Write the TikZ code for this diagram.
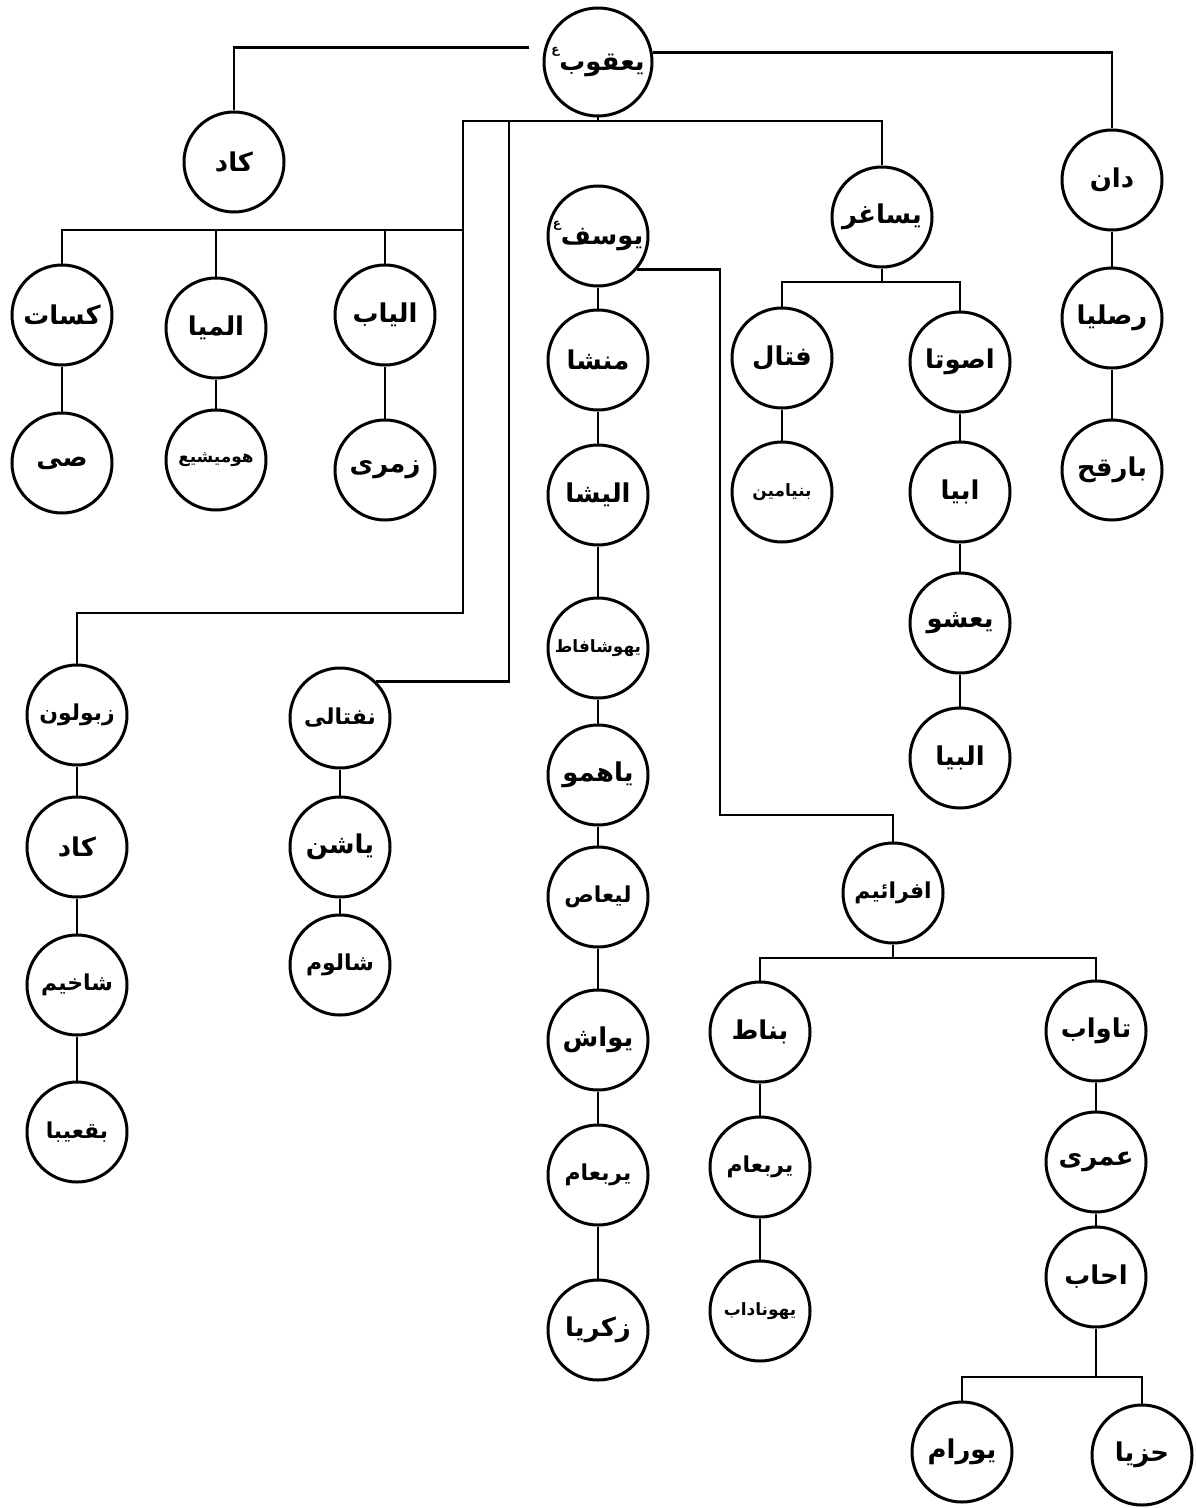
\documentclass[tikz,border=0pt]{standalone}
\usepackage{fontspec}
\newfontfamily\arabicfont[Script=Arabic]{DejaVu Sans}
\TeXXeTstate=1
\newcommand\urd[1]{\beginR #1\endR}
\newcommand\ainmark{\raisebox{1.2ex}{\fontsize{12}{12}\selectfont ع}}
\tikzset{
  person/.style={circle, draw, line width=3bp, minimum size=100bp, inner sep=0pt,
    font=\arabicfont\bfseries\fontsize{26}{28}\selectfont},
  mid/.style={font=\arabicfont\bfseries\fontsize{22}{24}\selectfont},
  small/.style={font=\arabicfont\bfseries\fontsize{17}{19}\selectfont},
  link/.style={line width=2.8bp},
}
\begin{document}
\begin{tikzpicture}[x=1bp,y=-1bp]
\useasboundingbox (0,0) rectangle (1195,1508);
% nodes
\node[person,minimum size=108bp] (yaqub) at (598,62) {\urd{یعقوب\ainmark}};
\node[person] (kad1) at (234,162) {\urd{کاد}};
\node[person] (dan) at (1112,180) {\urd{دان}};
\node[person] (issachar) at (882,217) {\urd{یساغر}};
\node[person] (yusuf) at (598,236) {\urd{یوسف\ainmark}};
\node[person] (kasat) at (62,315) {\urd{کسات}};
\node[person] (elmiya) at (216,328) {\urd{المیا}};
\node[person] (eliab) at (385,315) {\urd{الیاب}};
\node[person] (rasliya) at (1112,318) {\urd{رصلیا}};
\node[person] (fatal) at (782,358) {\urd{فتال}};
\node[person] (asuta) at (960,362) {\urd{اصوتا}};
\node[person] (mansha) at (598,360) {\urd{منشا}};
\node[person] (sai) at (62,463) {\urd{صی}};
\node[person,small] (homishi) at (216,460) {\urd{هومیشیع}};
\node[person] (zimri) at (385,470) {\urd{زمری}};
\node[person] (elisha) at (598,495) {\urd{الیشا}};
\node[person,small] (binyamin) at (782,492) {\urd{بنیامین}};
\node[person] (abiya) at (960,492) {\urd{ابیا}};
\node[person] (barqah) at (1112,470) {\urd{بارقح}};
\node[person,small] (yehoshafat) at (598,648) {\urd{یهوشافاط}};
\node[person] (yaashu) at (960,623) {\urd{یعشو}};
\node[person,mid] (zabulun) at (77,715) {\urd{زبولون}};
\node[person,mid] (naftali) at (340,718) {\urd{نفتالی}};
\node[person] (yahmu) at (598,775) {\urd{یاهمو}};
\node[person] (elbiya) at (960,758) {\urd{البیا}};
\node[person] (kad2) at (77,847) {\urd{کاد}};
\node[person] (yashan) at (340,847) {\urd{یاشن}};
\node[person,mid] (laas) at (598,897) {\urd{لیعاص}};
\node[person,mid] (ephraim) at (893,893) {\urd{افرائیم}};
\node[person,mid] (shakhim) at (77,985) {\urd{شاخیم}};
\node[person,mid] (shalom) at (340,965) {\urd{شالوم}};
\node[person] (bnat) at (760,1032) {\urd{بناط}};
\node[person] (tawab) at (1096,1031) {\urd{تاواب}};
\node[person] (yoash) at (598,1040) {\urd{یواش}};
\node[person,mid] (baqiba) at (77,1132) {\urd{بقعیبا}};
\node[person,mid] (yarobam) at (598,1175) {\urd{یربعام}};
\node[person,mid] (yarobamb) at (760,1167) {\urd{یربعام}};
\node[person] (omri) at (1096,1162) {\urd{عمری}};
\node[person] (ahab) at (1096,1277) {\urd{احاب}};
\node[person] (zakariya) at (598,1330) {\urd{زکریا}};
\node[person,small] (yonadab) at (760,1311) {\urd{یهوناداب}};
\node[person] (yoram) at (962,1452) {\urd{یورام}};
\node[person] (hazya) at (1142,1455) {\urd{حزیا}};
% helper coordinates
\coordinate (barL) at (463,121);
\coordinate (barM) at (509,121);
\coordinate (kb) at (463,230);
\coordinate (ib) at (882,282);
\coordinate (yc) at (720,815);
\coordinate (eb) at (893,958);
\coordinate (ab) at (1096,1377);
% connectors
\draw[link] ([xshift=-15bp]yaqub.165) -| (kad1.north);
\draw[link] (yaqub.10) -| (dan.north);
\draw[link] (yaqub.south) -- (yaqub.south |- barL);
\draw[link] (zabulun.north) |- (463,613) -- (barL) -| (issachar.north);
\draw[link] (naftali.45) -- (naftali.45 -| barM) -- (barM);
\draw[link] (kasat.north) |- (kb);
\draw[link] (elmiya.north) -- (elmiya.north |- kb);
\draw[link] (eliab.north) -- (eliab.north |- kb);
\draw[link] (issachar.south) -- (ib);
\draw[link] (fatal.north) |- (asuta.north |- ib) -- (asuta.north);
\draw[link] (yusuf.-40) -| (yc) -| (ephraim.north);
\draw[link] (ephraim.south) -- (ephraim.south |- eb);
\draw[link] (bnat.north) |- (tawab.north |- eb) -- (tawab.north);
\draw[link] (ahab.south) -- (ab);
\draw[link] (yoram.north) |- (hazya.north |- ab) -- (hazya.north);
% chains
\draw[link] (kasat) -- (sai);
\draw[link] (elmiya) -- (homishi);
\draw[link] (eliab) -- (zimri);
\draw[link] (dan) -- (rasliya) -- (barqah);
\draw[link] (yusuf) -- (mansha) -- (elisha) -- (yehoshafat) -- (yahmu) -- (laas) -- (yoash) -- (yarobam) -- (zakariya);
\draw[link] (fatal) -- (binyamin);
\draw[link] (asuta) -- (abiya) -- (yaashu) -- (elbiya);
\draw[link] (zabulun) -- (kad2) -- (shakhim) -- (baqiba);
\draw[link] (naftali) -- (yashan) -- (shalom);
\draw[link] (bnat) -- (yarobamb) -- (yonadab);
\draw[link] (tawab) -- (omri) -- (ahab);
\end{tikzpicture}
\end{document}
